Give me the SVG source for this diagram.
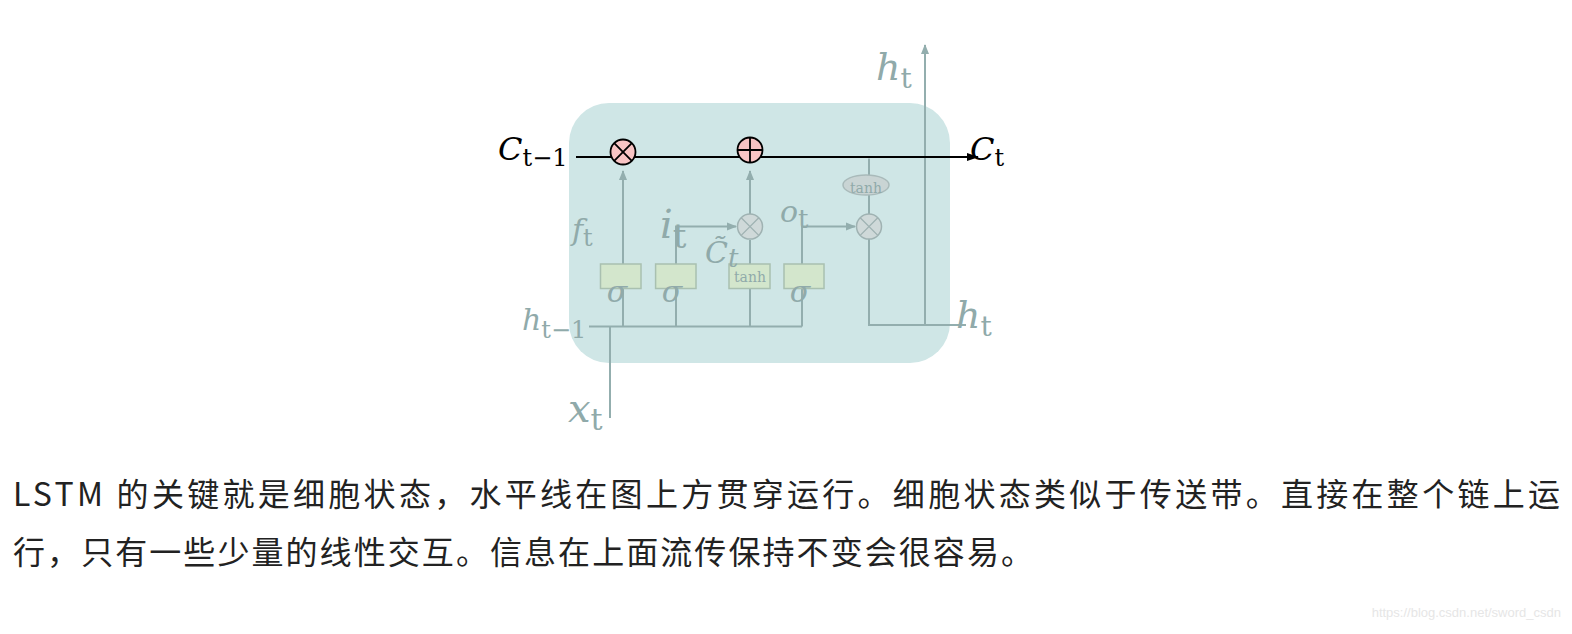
<svg xmlns="http://www.w3.org/2000/svg" width="1572" height="634" viewBox="0 0 1572 634">
<style>
.g{stroke:#93aeae;stroke-width:2;fill:none}
.m{font-family:"DejaVu Serif","Liberation Serif",serif;font-style:italic;fill:#90aaaa}
.s{font-family:"DejaVu Serif","Liberation Serif",serif;fill:#90aaaa}
.t{font-family:"Noto Sans CJK SC","Noto Sans",sans-serif;font-size:32px;fill:#222}
.box{fill:#d3e6cc;stroke:#a9c0b0;stroke-width:1.5}
.mul{fill:#cfd9d9;stroke:#9fb2b2;stroke-width:1.5}
</style>
<defs>
<marker id="ag" markerWidth="10" markerHeight="10" refX="9" refY="5" orient="auto" markerUnits="userSpaceOnUse"><path d="M0,1 L10,5 L0,9 Z" fill="#93aeae"/></marker>
<marker id="ak" markerWidth="12" markerHeight="10" refX="11" refY="5" orient="auto" markerUnits="userSpaceOnUse"><path d="M0,1 L12,5 L0,9 Z" fill="#000"/></marker>
</defs>
<rect width="1572" height="634" fill="#fff"/>
<g id="cell"><rect x="569" y="103" width="381" height="260" rx="40" fill="#cfe6e6"/></g>
<g id="connectors">
<path class="g" d="M623 264 V171" marker-end="url(#ag)"/>
<path class="g" d="M676 264 V226.6 H736" marker-end="url(#ag)"/>
<path class="g" d="M750 264 V240"/>
<path class="g" d="M750 214 V171" marker-end="url(#ag)"/>
<path class="g" d="M802 264 V226.6 H855" marker-end="url(#ag)"/>
<path class="g" d="M589 326.6 H802 M623 326.6 V288.5 M676 326.6 V288.5 M750 326.6 V288.5 M802 326.6 V288.5"/>
<path class="g" d="M610 418 V326.6"/>
<path class="g" d="M869 158.6 V175 M869 195 V214 M869 239 V325 H966" />
<path class="g" d="M925 325 V45" marker-end="url(#ag)"/>
<path d="M576 157 H978" stroke="#000" stroke-width="2" marker-end="url(#ak)"/>
</g>
<g id="mul1"><circle cx="623" cy="152" r="12.5" fill="#f8c4c4" stroke="#000" stroke-width="1.8"/><path d="M614.2 143.2 L631.8 160.8 M631.8 143.2 L614.2 160.8" stroke="#000" stroke-width="1.8"/></g>
<g id="add"><circle cx="750" cy="150" r="12.5" fill="#f8c4c4" stroke="#000" stroke-width="1.8"/><path d="M737.5 150 H762.5 M750 137.5 V162.5" stroke="#000" stroke-width="1.8"/></g>
<g id="mul2"><circle class="mul" cx="750" cy="226.6" r="12.5"/><path d="M741.2 217.8 L758.8 235.4 M758.8 217.8 L741.2 235.4" stroke="#9fb2b2" stroke-width="1.3"/></g>
<g id="mul3"><circle class="mul" cx="869" cy="226.6" r="12.5"/><path d="M860.2 217.8 L877.8 235.4 M877.8 217.8 L860.2 235.4" stroke="#9fb2b2" stroke-width="1.3"/></g>
<g id="tanh2"><ellipse cx="866" cy="185" rx="23" ry="10" fill="#c9d4d4" stroke="#a9baba" stroke-width="1.5"/><text class="s" x="866" y="193" font-size="14" text-anchor="middle">tanh</text></g>
<g id="sig1"><rect class="box" x="600.5" y="264" width="40.5" height="24.5"/><text class="m" x="617" y="302" font-size="30" text-anchor="middle">σ</text></g>
<g id="sig2"><rect class="box" x="655.6" y="264" width="40.4" height="24.5"/><text class="m" x="672" y="302" font-size="30" text-anchor="middle">σ</text></g>
<g id="tanh1"><rect class="box" x="729" y="264" width="41" height="24.5"/><text class="s" x="750" y="282" font-size="14" text-anchor="middle">tanh</text></g>
<g id="sig3"><rect class="box" x="784" y="264" width="40" height="24.5"/><text class="m" x="800" y="302" font-size="30" text-anchor="middle">σ</text></g>
<g id="labels">
<text x="498" y="160" font-family="DejaVu Serif,serif" font-style="italic" font-size="32" fill="#000">C<tspan font-style="normal" font-size="24" dy="6">t−1</tspan></text>
<text x="970" y="160" font-family="DejaVu Serif,serif" font-style="italic" font-size="32" fill="#000">C<tspan font-style="normal" font-size="24" dy="6">t</tspan></text>
<text class="m" x="876" y="80" font-size="38">h<tspan font-style="normal" font-size="28" dy="8">t</tspan></text>
<text class="m" x="956" y="328" font-size="38">h<tspan font-style="normal" font-size="28" dy="8">t</tspan></text>
<text class="m" x="522" y="330" font-size="30">h<tspan font-style="normal" font-size="24" dy="8">t−1</tspan></text>
<text class="m" x="568" y="422" font-size="40">x<tspan font-style="normal" font-size="30" dy="8">t</tspan></text>
<text class="m" x="572" y="240" font-size="30">f<tspan font-style="normal" font-size="24" dy="6">t</tspan></text>
<text class="m" x="660" y="238" font-size="40">i<tspan font-style="normal" font-size="34" dy="10">t</tspan></text>
<text class="m" x="705" y="263" font-size="30">C̃<tspan font-size="26" dy="4">t</tspan></text>
<text class="m" x="780" y="222" font-size="30">o<tspan font-style="normal" font-size="26" dy="6">t</tspan></text>
</g>
<text class="t" x="13" y="506" textLength="1547" lengthAdjust="spacing">LSTM 的关键就是细胞状态，水平线在图上方贯穿运行。细胞状态类似于传送带。直接在整个链上运</text>
<text class="t" x="13" y="564" textLength="1020" lengthAdjust="spacing">行，只有一些少量的线性交互。信息在上面流传保持不变会很容易。</text>
<text x="1561" y="617" font-family="Liberation Sans,sans-serif" font-size="13" fill="#e6e6e6" text-anchor="end">https://blog.csdn.net/sword_csdn</text>
</svg>
